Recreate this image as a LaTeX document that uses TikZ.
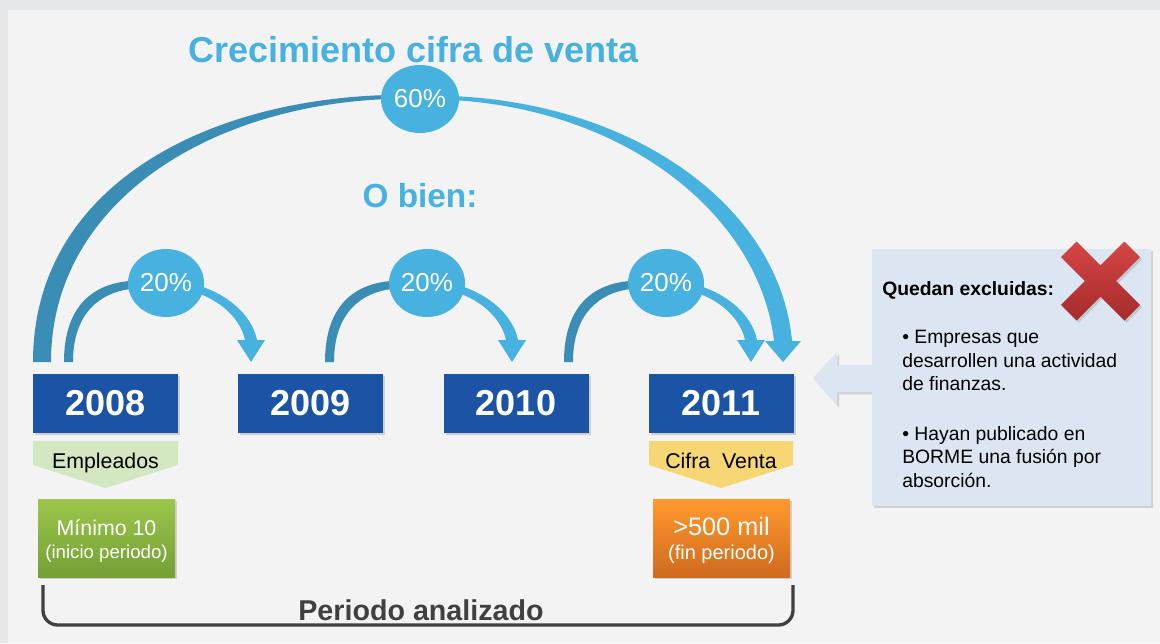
\documentclass[tikz,border=0pt]{standalone}
\usepackage{fontspec}
\setmainfont{Liberation Sans}
\usetikzlibrary{shapes.geometric,shadows}
\definecolor{outerbg}{HTML}{E6E7E8}
\definecolor{innerbg}{HTML}{F3F3F3}
\definecolor{lblue}{HTML}{47B1DF}
\definecolor{dblue}{HTML}{3A8EB6}
\definecolor{yearblue}{HTML}{1B54A5}
\definecolor{empgreen}{HTML}{D3E7C1}
\definecolor{cifyellow}{HTML}{F7D774}
\definecolor{greentop}{HTML}{9CC64B}
\definecolor{greenbot}{HTML}{74A035}
\definecolor{orangetop}{HTML}{FF9A2E}
\definecolor{orangebot}{HTML}{CF6A1F}
\definecolor{boxblue}{HTML}{DCE6F2}
\definecolor{darkgray}{HTML}{404040}
\definecolor{redtop}{HTML}{D64545}
\definecolor{redbot}{HTML}{A52B2B}
\newcommand{\smallarcdraw}[1]{%
  \begin{scope}[shift={(#1,0)}]
    \fill[dblue] (-102,362) .. controls (-102,307) and (-74,284) .. (-36,281) -- (-36,289) .. controls (-66,293) and (-93,313) .. (-93,362) -- cycle;
    \fill[lblue] (34,286) .. controls (62,295) and (86,315) .. (91,340) -- (99,340) -- (85,362) -- (71,340) -- (79,340) .. controls (75,321) and (58,303) .. (34,294) -- cycle;
  \end{scope}}
\begin{document}
\begin{tikzpicture}[x=0.75pt,y=-0.75pt,
  shad/.style={drop shadow={opacity=0.3, shadow xshift=1.5pt, shadow yshift=-1.8pt}},
  yearbox/.style={rectangle, fill=yearblue, minimum width=108.75pt, minimum height=44.25pt, inner sep=0pt, text=white, font=\fontsize{27}{30}\selectfont\bfseries, shad},
  pct/.style={ellipse, fill=lblue, text=white, inner sep=0pt, font=\fontsize{19.5}{22}\selectfont, minimum width=57pt, minimum height=51pt},
  headtext/.style={anchor=base, text=lblue, inner sep=0pt, font=\fontsize{#1}{#1}\selectfont\bfseries},
  valbox/.style={rectangle, minimum width=102.75pt, minimum height=58.5pt, inner sep=0pt, shad},
  lbl/.style={anchor=base, inner sep=0pt, font=\fontsize{16}{18}\selectfont},
  wtxt/.style={anchor=base, inner sep=0pt, text=white, font=\fontsize{#1}{#1}\selectfont},
  btxt/.style={anchor=base west, inner sep=0pt, font=\fontsize{14.5}{17}\selectfont}
]
\useasboundingbox (0,0) rectangle (1160,643);
\fill[outerbg] (0,0) rectangle (1160,643);
\fill[innerbg] (8,10) rectangle (1160,643);

% titles
\node[headtext=27] (title) at (413.5,62) {Crecimiento cifra de venta};
\node[headtext=25] (obien) at (420,207) {O bien:};

% big arc
\fill[dblue] (33,362) .. controls (33,190) and (200,100) .. (388,95) -- (388,99) .. controls (205,106) and (51,205) .. (51,362) -- cycle;
\fill[lblue] (452,96) .. controls (640,104) and (780,210) .. (792,341) -- (801,341) -- (783,362) -- (765,341) -- (774,341) .. controls (760,218) and (630,110) .. (452,100) -- cycle;
\node[pct, minimum width=58.5pt] (p60) at (420,99) {60\%};

% small arcs
\smallarcdraw{166}
\smallarcdraw{427}
\smallarcdraw{666}
\node[pct] (p1) at (166,283) {20\%};
\node[pct] (p2) at (427,283) {20\%};
\node[pct] (p3) at (666,283) {20\%};

% year boxes
\node[yearbox] (y2008) at (105.5,403.5) {2008};
\node[yearbox] (y2009) at (310.5,403.5) {2009};
\node[yearbox] (y2010) at (516,403.5) {2010};
\node[yearbox] (y2011) at (721,403.5) {2011};

% pentagons
\fill[empgreen] (33,441) -- (178,441) -- (178,465) -- (105.5,488) -- (33,465) -- cycle;
\fill[cifyellow] (649,441) -- (793,441) -- (793,465) -- (721,488) -- (649,465) -- cycle;
\node[lbl] (emp) at (105.5,468) {Empleados};
\node[lbl] (cif) at (721,468) {Cifra\ \ Venta};

% value boxes
\node[valbox, top color=greentop, bottom color=greenbot] (gbox) at (106.5,538) {};
\node[valbox, top color=orangetop, bottom color=orangebot] (obox) at (721.5,538) {};
\node[wtxt=16] (g1) at (106.5,535) {Mínimo 10};
\node[wtxt=14] (g2) at (106.5,558) {(inicio periodo)};
\node[wtxt=19] (o1) at (721.5,535) {>500 mil};
\node[wtxt=15] (o2) at (721.5,559) {(fin periodo)};

% bracket
\draw[darkgray, line width=2.5pt, rounded corners=11pt] (43,585) -- (43,625) -- (793,625) -- (793,585);
\node[anchor=base, inner sep=0pt, text=darkgray, font=\fontsize{21.5}{24}\selectfont\bfseries] (per) at (421,620) {Periodo analizado};

% exclusion box and arrow
\path[fill=boxblue, shad] (813,378) -- (837,352) -- (837,365) -- (880,365) -- (880,392) -- (837,392) -- (837,405) -- cycle;
\node[rectangle, fill=boxblue, minimum width=209.25pt, minimum height=192.75pt, inner sep=0pt, shad] (excl) at (1011.5,377.5) {};
\begin{scope}[shift={(1100.5,281)}]
\path[top color=redtop, bottom color=redbot, shad] (23.98,39.5) -- (39.5,23.98) -- (15.56,0) -- (39.5,-23.98) -- (23.98,-39.5) -- (0,-15.56) -- (-23.98,-39.5) -- (-39.5,-23.98) -- (-15.56,0) -- (-39.5,23.98) -- (-23.98,39.5) -- (0,15.56) -- cycle;
\end{scope}
\node[btxt, font=\fontsize{14.5}{17}\selectfont\bfseries] (q) at (882,295) {Quedan excluidas:};
\node[btxt] (l1) at (902,343) {• Empresas que};
\node[btxt] (l2) at (902,367) {desarrollen una actividad};
\node[btxt] (l3) at (902,390) {de finanzas.};
\node[btxt] (l4) at (902,440) {• Hayan publicado en};
\node[btxt] (l5) at (902,463) {BORME una fusión por};
\node[btxt] (l6) at (902,487) {absorción.};
\end{tikzpicture}
\end{document}
